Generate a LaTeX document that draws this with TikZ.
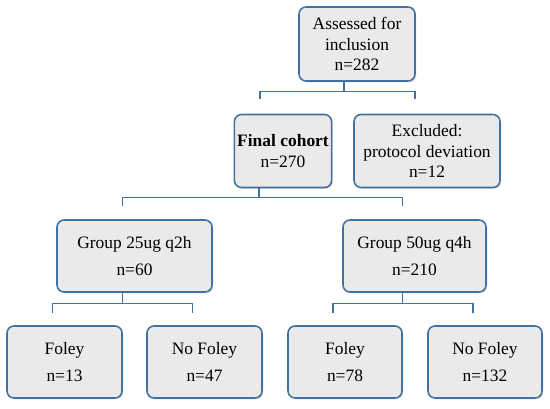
\documentclass[tikz,border=0pt]{standalone}
\usepackage{fontspec}
\setmainfont{Liberation Serif}
\usepackage{tikz}
\usetikzlibrary{shadows}

\definecolor{boxline}{RGB}{65,113,160}
\definecolor{boxfill}{RGB}{234,234,234}

\begin{document}
\begin{tikzpicture}[x=0.025cm, y=-0.025cm,
    every node/.style={font=\fontsize{12.4}{14.5}\selectfont},
    flowbox/.style={draw=boxline, line width=1.1pt, fill=boxfill, rounded corners=5pt,
        align=center, inner sep=2pt,
        drop shadow={opacity=0.25, shadow xshift=1pt, shadow yshift=-1pt}},
    link/.style={draw=boxline, line width=0.9pt}]
    \useasboundingbox (0,0) rectangle (550,408);

    % Boxes
    \node[flowbox, minimum width=116*0.025cm, minimum height=74*0.025cm] (assess) at (357,44) {Assessed for\\inclusion\\n=282};
    \node[flowbox, minimum width=93*0.025cm, minimum height=73*0.025cm] (final) at (283,151) {\textbf{Final cohort}\\n=270};
    \node[flowbox, minimum width=146*0.025cm, minimum height=73*0.025cm] (excl) at (427,151) {Excluded:\\protocol deviation\\n=12};
    \node[flowbox, minimum width=155*0.025cm, minimum height=72*0.025cm] (grpA) at (134.5,256) {Group 25ug q2h\\[5pt]n=60};
    \node[flowbox, minimum width=143*0.025cm, minimum height=72*0.025cm] (grpB) at (414.5,256) {Group 50ug q4h\\[5pt]n=210};
    \node[flowbox, minimum width=115*0.025cm, minimum height=72*0.025cm] (foleyA) at (64.5,362) {Foley\\[5pt]n=13};
    \node[flowbox, minimum width=115*0.025cm, minimum height=72*0.025cm] (nofoleyA) at (204.5,362) {No Foley\\[5pt]n=47};
    \node[flowbox, minimum width=114*0.025cm, minimum height=72*0.025cm] (foleyB) at (345,362) {Foley\\[5pt]n=78};
    \node[flowbox, minimum width=114*0.025cm, minimum height=72*0.025cm] (nofoleyB) at (485,362) {No Foley\\[5pt]n=132};

    % Connectors
    \draw[link] ([shift={(-13,0)}]assess.south) -- ++(0,10) coordinate (j1);
    \draw[link] (j1) -| ([shift={(-23,-15)}]final.north);
    \draw[link] (j1) -| ([shift={(-12,-15)}]excl.north);

    \draw[link] ([shift={(-24,0)}]final.south) -- ++(0,9) coordinate (j2);
    \draw[link] (j2) -| ([shift={(-12,-13)}]grpA.north);
    \draw[link] (j2) -| ([shift={(-12,-13)}]grpB.north);

    \draw[link] ([shift={(-12,0)}]grpA.south) -- ++(0,11) coordinate (j3);
    \draw[link] (j3) -| ([shift={(-12,-12)}]foleyA.north);
    \draw[link] (j3) -| ([shift={(-12,-12)}]nofoleyA.north);

    \draw[link] ([shift={(-12,0)}]grpB.south) -- ++(0,11) coordinate (j4);
    \draw[link] (j4) -| ([shift={(-12,-12)}]foleyB.north);
    \draw[link] (j4) -| ([shift={(-12,-12)}]nofoleyB.north);
\end{tikzpicture}
\end{document}
